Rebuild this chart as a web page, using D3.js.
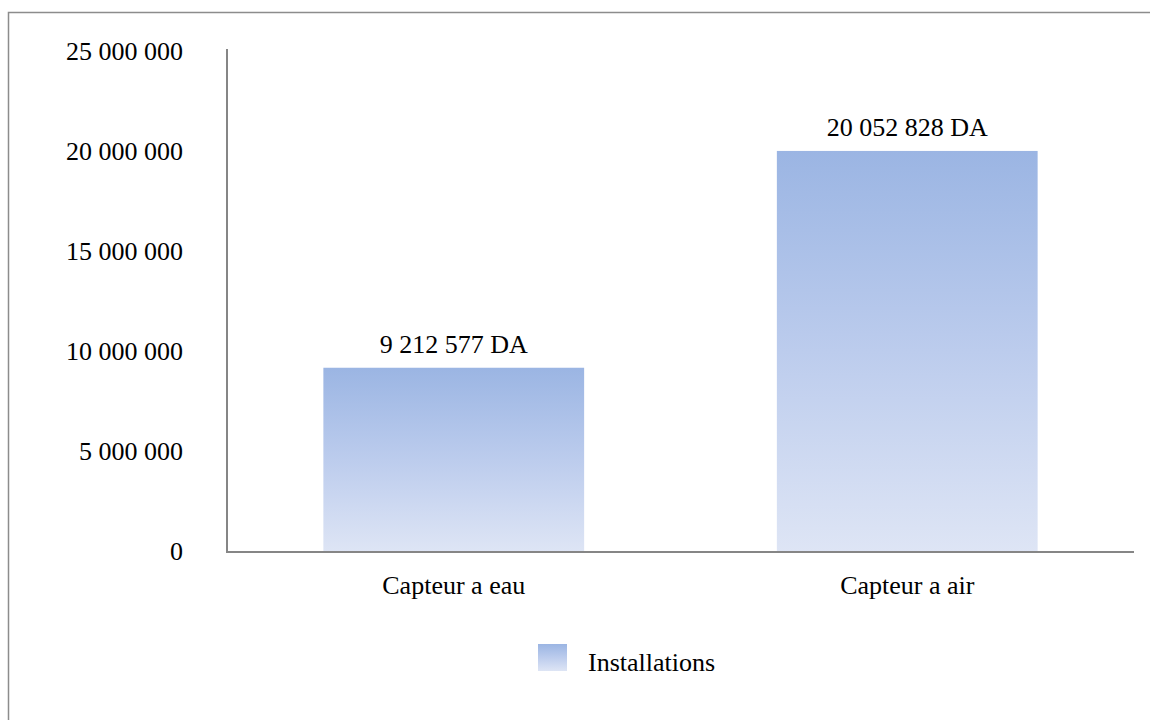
<!DOCTYPE html>
<html>
<head>
<meta charset="utf-8">
<script src="https://cdn.jsdelivr.net/npm/d3@7/dist/d3.min.js"></script>
<style>
  html, body { margin: 0; padding: 0; background: #fff; }
  svg text { font-family: "Liberation Serif", "Times New Roman", serif; fill: #000; }
</style>
</head>
<body>
<svg id="chart" width="1150" height="720"></svg>
<script>
// Installation cost per collector type
const categories = ["Capteur a eau", "Capteur a air"];
const values = [9212577, 20052828];
const seriesName = "Installations";
const tickValues = [0, 5000000, 10000000, 15000000, 20000000, 25000000];

const svg = d3.select("#chart");
const W = 1150, H = 720;
const margin = { left: 228, right: 16, top: 52, bottom: 168 };
const fontSize = 26;

// number format with spaces as thousands separator
const fmt = d3.formatLocale({ decimal: ",", thousands: "\u00a0", grouping: [3], currency: ["", ""] }).format(",d");
const fmtNum = d => fmt(d).replace(/\u00a0/g, " ");

// outer frame
svg.append("rect")
  .attr("x", 8.5).attr("y", 12.5)
  .attr("width", W).attr("height", H)
  .attr("fill", "none").attr("stroke", "#8c8c8c").attr("stroke-width", 1.5);

// vertical gradient used by bars and legend swatch
const defs = svg.append("defs");
const grad = defs.append("linearGradient")
  .attr("id", "barGrad").attr("x1", 0).attr("y1", 0).attr("x2", 0).attr("y2", 1);
grad.append("stop").attr("offset", "0%").attr("stop-color", "#9bb5e3");
grad.append("stop").attr("offset", "50%").attr("stop-color", "#bccced");
grad.append("stop").attr("offset", "100%").attr("stop-color", "#dee5f5");

const x = d3.scaleBand()
  .domain(categories)
  .range([margin.left - 1, W - margin.right])
  .paddingInner(0.425)
  .paddingOuter(0.2125);

const y = d3.scaleLinear()
  .domain([0, 25000000])
  .range([H - margin.bottom, margin.top]);

// bars
svg.append("g").selectAll("rect")
  .data(values)
  .join("rect")
  .attr("x", (d, i) => x(categories[i]))
  .attr("y", d => y(d))
  .attr("width", x.bandwidth())
  .attr("height", d => y(0) - y(d))
  .attr("fill", "url(#barGrad)");

// value labels
svg.append("g").selectAll("text")
  .data(values)
  .join("text")
  .attr("x", (d, i) => x(categories[i]) + x.bandwidth() / 2)
  .attr("y", d => y(d) - 15)
  .attr("text-anchor", "middle")
  .attr("font-size", fontSize)
  .text(d => fmtNum(d) + " DA");

// y axis
const yAxis = svg.append("g")
  .attr("transform", `translate(${margin.left - 1},0)`)
  .call(d3.axisLeft(y).tickValues(tickValues).tickSize(0).tickPadding(44)
    .tickFormat(fmtNum));
yAxis.select(".domain").attr("stroke", "#868686").attr("stroke-width", 2)
  .attr("d", `M0,${y(25000000) - 3}V${y(0)}`);
yAxis.selectAll("text").attr("font-size", fontSize).attr("font-family", "Liberation Serif")
  .attr("fill", "#000").attr("dy", "0.3em");

// x axis
const xAxis = svg.append("g")
  .attr("transform", `translate(0,${y(0)})`)
  .call(d3.axisBottom(x).tickSize(0).tickPadding(24));
xAxis.select(".domain").attr("stroke", "#868686").attr("stroke-width", 2)
  .attr("d", `M${margin.left - 2},0H${W - margin.right}`);
xAxis.selectAll("text").attr("font-size", fontSize).attr("font-family", "Liberation Serif").attr("fill", "#000");

// legend
const legend = svg.append("g").attr("transform", "translate(538,644)");
legend.append("rect").attr("width", 29).attr("height", 27).attr("fill", "url(#barGrad)");
legend.append("text").attr("x", 50).attr("y", 27).attr("font-size", fontSize).text(seriesName);
</script>
</body>
</html>
